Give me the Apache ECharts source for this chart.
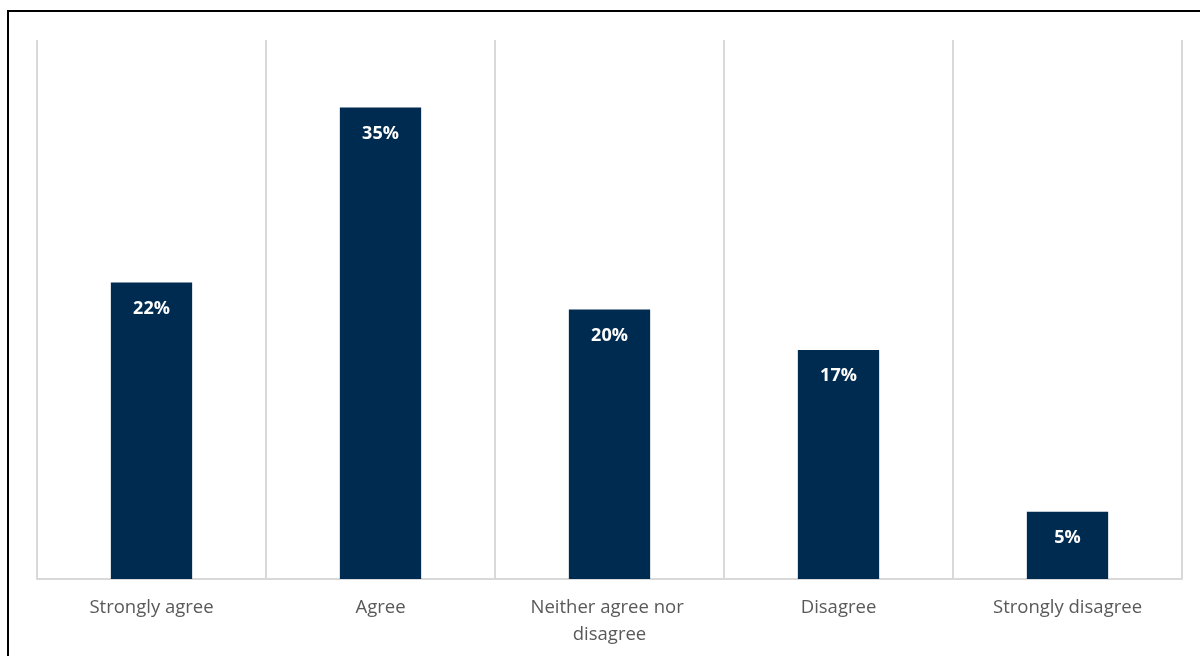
<!DOCTYPE html>
<html>
<head>
<meta charset="utf-8">
<script src="https://cdn.jsdelivr.net/npm/echarts@6/dist/echarts.min.js"></script>
<style>
  html, body { margin: 0; padding: 0; background: #fff; overflow: hidden; }
  #chart { width: 1200px; height: 656px; position: relative; }
  #frame {
    position: absolute; left: 7px; top: 10px; width: 1220px; height: 700px;
    border: 2px solid #000; pointer-events: none; box-sizing: border-box;
  }
</style>
</head>
<body>
<div id="chart"></div>
<div id="frame"></div>
<script>
const categories = ["Strongly agree", "Agree", "Neither agree nor disagree", "Disagree", "Strongly disagree"];
const shares = [22, 35, 20, 17, 5];

const chart = echarts.init(document.getElementById("chart"));

const option = {
  animation: false,
  grid: { left: 37, right: 18, top: 40, bottom: 77 },
  xAxis: {
    type: "category",
    data: categories,
    axisLine: { lineStyle: { color: "#d9d9d9", width: 2 } },
    axisTick: { show: false },
    splitLine: { show: true, lineStyle: { color: "#d9d9d9", width: 2 } },
    axisLabel: {
      color: "#595959",
      fontFamily: "Open Sans",
      fontSize: 18.5,
      margin: 15,
      lineHeight: 27,
      width: 200,
      overflow: "break",
      interval: 0
    }
  },
  yAxis: {
    type: "value",
    min: 0,
    max: 40,
    show: false,
    splitLine: { show: false }
  },
  series: [
    {
      type: "bar",
      data: shares,
      barWidth: "35.5%",
      itemStyle: { color: "#002b50" },
      label: {
        show: true,
        position: "insideTop",
        distance: 17,
        color: "#fff",
        fontFamily: "Open Sans",
        fontWeight: "bold",
        fontSize: 18,
        formatter: (p) => p.value + "%"
      }
    }
  ]
};

chart.setOption(option);
</script>
</body>
</html>
